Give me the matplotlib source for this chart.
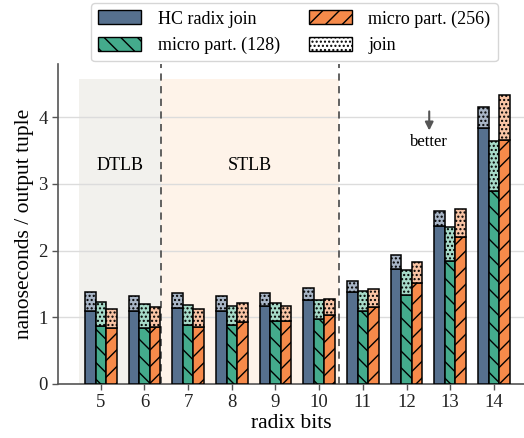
import matplotlib
matplotlib.use("Agg")
import matplotlib.pyplot as plt
from matplotlib.patches import Patch
import numpy as np

plt.rcParams['font.family'] = ['Liberation Serif', 'DejaVu Serif']
plt.rcParams['hatch.linewidth'] = 1.0

radix_bits = [5, 6, 7, 8, 9, 10, 11, 12, 13, 14]
series = ["HC radix join", "micro part. (128)", "micro part. (256)"]

hc_part = [1.10, 1.10, 1.14, 1.10, 1.17, 1.26, 1.38, 1.73, 2.37, 3.84]
hc_join = [0.28, 0.22, 0.23, 0.22, 0.19, 0.18, 0.17, 0.20, 0.23, 0.32]
m128_part = [0.87, 0.84, 0.88, 0.89, 0.95, 0.97, 1.10, 1.34, 1.85, 2.90]
m128_join = [0.36, 0.36, 0.30, 0.28, 0.27, 0.29, 0.30, 0.37, 0.51, 0.74]
m256_part = [0.84, 0.85, 0.86, 0.93, 0.94, 1.03, 1.15, 1.51, 2.21, 3.66]
m256_join = [0.28, 0.30, 0.27, 0.28, 0.23, 0.24, 0.27, 0.32, 0.42, 0.67]

colors = ["#56708e", "#44ab8c", "#f68a4a"]
light = ["#a8b5c6", "#a6dac8", "#f9c4a5"]
hatches = ["", "\\\\", "//"]
dot_hatch = "...."

parts = [hc_part, m128_part, m256_part]
joins = [hc_join, m128_join, m256_join]

fig = plt.figure(figsize=(5.24, 4.38), dpi=100)
ax = fig.add_axes([0.1107, 0.1233, 0.8893, 0.7307])

x = np.arange(len(radix_bits))
w = 0.24
offsets = [-w, 0, w]

# shaded regions
ax.axvspan(-0.5, 1.38, ymin=0, ymax=4.58 / 4.80, color="#f2f1ed", zorder=0, lw=0)
ax.axvspan(1.38, 5.45, ymin=0, ymax=4.58 / 4.80, color="#fef3e9", zorder=0, lw=0)
ax.axvline(1.38, color="#555555", ls=(0, (4, 3)), lw=1.3, zorder=1)
ax.axvline(5.45, color="#555555", ls=(0, (4, 3)), lw=1.3, zorder=1)

for i in range(3):
    ax.bar(x + offsets[i], parts[i], w, color=colors[i], edgecolor="black",
           hatch=hatches[i], lw=1.1, zorder=3)
    ax.bar(x + offsets[i], joins[i], w, bottom=parts[i], color=light[i],
           edgecolor="black", hatch=dot_hatch, lw=1.1, zorder=3)

ax.set_xlim(-0.98, 9.69)
ax.set_ylim(0, 4.80)
ax.set_xticks(x)
ax.set_xticklabels([str(v) for v in radix_bits])
ax.set_yticks([0, 1, 2, 3, 4])
ax.yaxis.grid(True, color="#dcdcdc", lw=1.0, zorder=0)
ax.set_axisbelow(True)
for s in ["top", "right"]:
    ax.spines[s].set_visible(False)
for s in ["left", "bottom"]:
    ax.spines[s].set_color("#555555")
    ax.spines[s].set_linewidth(1.2)
ax.tick_params(axis="both", labelsize=13.5, colors="#222222", length=4, width=1.0)
ax.tick_params(axis="both", color="#555555")

ax.set_xlabel("radix bits", fontsize=15.5, labelpad=2)
ax.set_ylabel("nanoseconds / output tuple", fontsize=15.5, labelpad=3)

ax.text(0.44, 3.28, "DTLB", ha="center", va="center", fontsize=13)
ax.text(3.41, 3.28, "STLB", ha="center", va="center", fontsize=13)
ax.annotate("", xy=(7.52, 3.76), xytext=(7.52, 4.13),
            arrowprops=dict(arrowstyle="-|>", color="#555555", lw=1.5, mutation_scale=12))
ax.text(7.52, 3.63, "better", ha="center", va="center", fontsize=12)

handles = [
    Patch(facecolor=colors[0], edgecolor="black", hatch=hatches[0], label=series[0]),
    Patch(facecolor=colors[1], edgecolor="black", hatch=hatches[1], label=series[1]),
    Patch(facecolor=colors[2], edgecolor="black", hatch=hatches[2], label=series[2]),
    Patch(facecolor="white", edgecolor="black", hatch=dot_hatch, label="join"),
]
leg = ax.legend(handles=handles, ncol=2, loc="lower center", bbox_to_anchor=(0.507, 1.0),
                fontsize=13, frameon=True, fancybox=True, edgecolor="#cccccc",
                handlelength=2.4, handleheight=0.8, columnspacing=1.6,
                borderaxespad=0.15, labelspacing=0.5, handletextpad=0.9)
leg.get_frame().set_linewidth(1.0)

fig.savefig("out.png", dpi=100)
